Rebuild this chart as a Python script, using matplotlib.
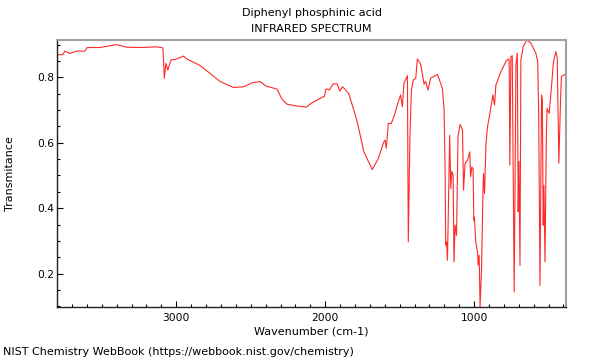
import matplotlib
matplotlib.use("Agg")
import matplotlib.pyplot as plt
from matplotlib.ticker import MultipleLocator

wavenumber = [
    3801, 3760, 3749, 3715, 3670, 3614, 3598, 3513, 3400, 3333, 3243, 3131, 3090,
    3080, 3070, 3057, 3036, 3007, 2975, 2952, 2929, 2840, 2705, 2616, 2548, 2492,
    2436, 2402, 2324, 2290, 2257, 2201, 2127, 2088, 2032, 2005, 1996, 1983, 1972,
    1947, 1920, 1902, 1882, 1842, 1808, 1785, 1740, 1684, 1645, 1606, 1598, 1590,
    1576, 1556, 1539, 1516, 1494, 1482, 1471, 1448, 1442, 1431, 1421, 1408, 1392,
    1381, 1359, 1336, 1325, 1310, 1292, 1246, 1213, 1202, 1195, 1191, 1185, 1179,
    1172, 1164, 1157, 1150, 1141, 1135, 1128, 1118, 1108, 1094, 1078, 1071, 1061,
    1044, 1029, 1024, 1015, 1007, 1002, 998, 989, 977, 973, 966, 960, 950, 941,
    937, 930, 921, 910, 892, 874, 863, 854, 820, 787, 771, 765, 760, 753, 744,
    731, 719, 710, 704, 699, 692, 686, 670, 645, 618, 585, 573, 566, 558, 547,
    542, 536, 531, 524, 515, 510, 496, 485, 467, 451, 442, 431, 420, 414, 400, 383,
]
transmittance = [
    0.868, 0.870, 0.880, 0.873, 0.880, 0.880, 0.891, 0.891, 0.900, 0.892, 0.891, 0.893, 0.890,
    0.797, 0.843, 0.822, 0.853, 0.855, 0.860, 0.865, 0.856, 0.836, 0.787, 0.769, 0.771, 0.783,
    0.787, 0.774, 0.764, 0.733, 0.718, 0.713, 0.709, 0.722, 0.736, 0.742, 0.763, 0.764, 0.761,
    0.780, 0.780, 0.758, 0.771, 0.750, 0.700, 0.664, 0.572, 0.518, 0.550, 0.603, 0.608, 0.583,
    0.659, 0.659, 0.679, 0.715, 0.746, 0.710, 0.782, 0.805, 0.297, 0.623, 0.761, 0.792, 0.797,
    0.856, 0.840, 0.779, 0.787, 0.761, 0.797, 0.809, 0.766, 0.705, 0.521, 0.287, 0.297, 0.241,
    0.419, 0.623, 0.460, 0.513, 0.501, 0.236, 0.348, 0.317, 0.623, 0.656, 0.639, 0.455, 0.537,
    0.547, 0.572, 0.496, 0.526, 0.520, 0.363, 0.373, 0.297, 0.266, 0.226, 0.256, 0.098, 0.216, 0.440,
    0.506, 0.445, 0.593, 0.649, 0.695, 0.746, 0.715, 0.776, 0.817, 0.848, 0.856, 0.853, 0.532, 0.863, 0.866,
    0.144, 0.838, 0.874, 0.389, 0.542, 0.225, 0.853, 0.894, 0.914, 0.904, 0.873, 0.848, 0.675, 0.164, 0.746,
    0.730, 0.348, 0.470, 0.236, 0.623, 0.705, 0.690, 0.746, 0.848, 0.878, 0.860, 0.537, 0.725, 0.802, 0.807, 0.807,
]

title_lines = ["Diphenyl phosphinic acid", "INFRARED SPECTRUM"]
x_label = "Wavenumber (cm-1)"
y_label = "Transmitance"
footer = "NIST Chemistry WebBook (https://webbook.nist.gov/chemistry)"

plt.rcParams['font.family'] = ['DejaVu Sans']

fig = plt.figure(figsize=(6, 3.6), dpi=100)
ax = fig.add_axes([57 / 600, 1 - 307 / 360, (566 - 57) / 600, (307 - 40) / 360])
ax.plot(wavenumber, transmittance, color='#ff2a2a', linewidth=0.8)
ax.set_xlim(3801, 383)
ax.set_ylim(0.098, 0.914)

ax.xaxis.set_major_locator(MultipleLocator(1000))
ax.xaxis.set_minor_locator(MultipleLocator(100))
ax.yaxis.set_major_locator(MultipleLocator(0.2))
ax.yaxis.set_minor_locator(MultipleLocator(0.05))
ax.tick_params(which='both', direction='in', top=False, right=False, labelsize=7.7)
ax.tick_params(which='major', length=4, width=0.8)
ax.tick_params(which='minor', length=2, width=0.8)
ax.tick_params(axis='x', pad=4)
ax.tick_params(axis='y', pad=2)

for s in ['top', 'right']:
    ax.spines[s].set_color('#a0a0a0')
    ax.spines[s].set_linewidth(1.5)
for s in ['left', 'bottom']:
    ax.spines[s].set_color('#222222')
    ax.spines[s].set_linewidth(1.0)

fig.text(311.5 / 600, 1 - 13 / 360, title_lines[0], fontsize=8, ha='center', va='center')
fig.text(311.5 / 600, 1 - 29.5 / 360, title_lines[1], fontsize=8, ha='center', va='center')
ax.set_xlabel(x_label, fontsize=8, labelpad=3)
ax.yaxis.set_label_coords(-(57 - 10) / 509, 0.5)
ax.set_ylabel(y_label, fontsize=8, va='center')
fig.text(3 / 600, 1 - 352 / 360, footer, fontsize=8, ha='left', va='center')

fig.savefig("out.png", dpi=100)
